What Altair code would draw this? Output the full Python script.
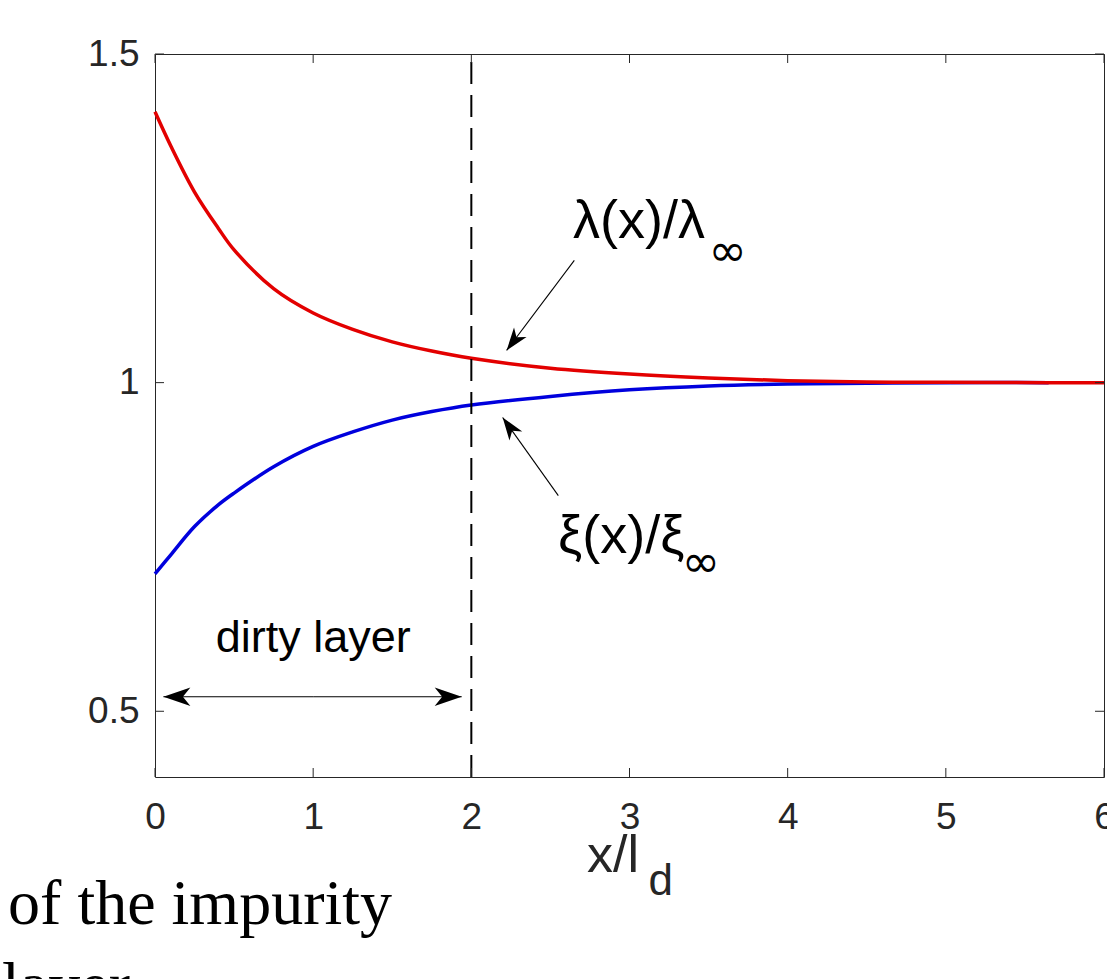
import math
import altair as alt
import pandas as pd

# ---- data ----
x_vals = [0, 0.1, 0.25, 0.4, 0.5, 0.75, 1.0, 1.25, 1.5, 1.75, 2.0, 2.5, 3.0, 3.5, 4.0, 4.5, 5.0, 5.65, 6.0]
lam_vals = [1.412, 1.360, 1.290, 1.235, 1.202, 1.143, 1.106, 1.081, 1.062, 1.048, 1.037, 1.022, 1.013, 1.007, 1.003, 1.001, 1.0005, 1.0, 1.0]
xi_x = [0, 0.1, 0.25, 0.4, 0.5, 0.75, 1.0, 1.25, 1.5, 1.75, 2.0, 2.5, 3.0, 3.5, 4.0, 4.5, 5.0, 5.65]
xi_vals = [0.709, 0.738, 0.781, 0.814, 0.832, 0.872, 0.903, 0.925, 0.943, 0.956, 0.966, 0.979, 0.989, 0.995, 0.998, 0.999, 1.0, 1.0]

x_ticks = [0, 1, 2, 3, 4, 5, 6]
y_ticks = [0.5, 1, 1.5]
x_domain = [0, 6]
y_domain = [0.4, 1.5]
dirty_x = 2.0

W, H = 949, 723
TICK = 9
AX = "#262626"

lam_df = pd.DataFrame({"x": x_vals, "y": lam_vals})
xi_df = pd.DataFrame({"x": xi_x, "y": xi_vals})

xs = alt.Scale(domain=x_domain, nice=False, zero=False)
ys = alt.Scale(domain=y_domain, nice=False, zero=False)


def X(f="x"):
    return alt.X(f"{f}:Q", scale=xs, title=None)


def Y(f="y"):
    return alt.Y(f"{f}:Q", scale=ys, title=None)


blue = alt.Chart(xi_df).mark_line(color="#0000dd", strokeWidth=3.5, interpolate="catmull-rom").encode(
    x=alt.X("x:Q", scale=xs, title=None,
            axis=alt.Axis(values=x_ticks, format="~g", ticks=False, tickSize=0, domain=False,
                          grid=False, labelPadding=22)),
    y=alt.Y("y:Q", scale=ys, title=None,
            axis=alt.Axis(values=y_ticks, format="~g", ticks=False, tickSize=0, domain=False,
                          grid=False, labelPadding=16)),
)
red = alt.Chart(lam_df).mark_line(color="#e30000", strokeWidth=3.5, interpolate="catmull-rom").encode(
    x=X(), y=Y()
)

vline = alt.Chart(pd.DataFrame({"x": [dirty_x], "y0": [y_domain[0]], "y1": [y_domain[1]]})).mark_rule(
    color="black", strokeWidth=2, strokeDash=[22, 11]
).encode(x=X(), y=Y("y0"), y2="y1:Q")

# inward ticks on all four sides
xt = pd.DataFrame({"t": x_ticks})
yt = pd.DataFrame({"t": y_ticks})
tick_style = dict(color=AX, strokeWidth=1)
tb = alt.Chart(xt).mark_rule(**tick_style).encode(x=X("t"), y=alt.value(H), y2=alt.value(H - TICK))
tt = alt.Chart(xt).mark_rule(**tick_style).encode(x=X("t"), y=alt.value(0), y2=alt.value(TICK))
tl = alt.Chart(yt).mark_rule(**tick_style).encode(y=Y("t"), x=alt.value(0), x2=alt.value(TICK))
tr = alt.Chart(yt).mark_rule(**tick_style).encode(y=Y("t"), x=alt.value(W), x2=alt.value(W - TICK))

# annotation arrows (start -> tip, in data units)
arrows = pd.DataFrame({
    "x0": [2.651, 2.550, 1.0, 1.0],
    "y0": [1.186, 0.828, 0.522, 0.522],
    "x1": [2.223, 2.198, 0.053, 1.939],
    "y1": [1.049, 0.947, 0.522, 0.522],
    "kind": ["small", "small", "big", "big"],
})
sx = W / (x_domain[1] - x_domain[0])
sy = H / (y_domain[1] - y_domain[0])
angles = []
for a, b, c, d in zip(arrows.x0, arrows.y0, arrows.x1, arrows.y1):
    dx = (c - a) * sx
    dy = -(d - b) * sy
    ang = math.degrees(math.atan2(dx, -dy)) % 360
    angles.append(ang)
arrows["angle"] = angles
arrows["size"] = [640 if k == "small" else 900 for k in arrows.kind]

shafts = alt.Chart(arrows).mark_rule(color="black", strokeWidth=1.1).encode(
    x=X("x0"), y=Y("y0"), x2="x1:Q", y2="y1:Q"
)
head_path = "M0,0 L0.62,1.8 L0,1.3 L-0.62,1.8 Z"
heads = alt.Chart(arrows).mark_point(shape=head_path, filled=True, color="black", opacity=1, strokeWidth=0).encode(
    x=X("x1"), y=Y("y1"), angle=alt.Angle("angle:Q", scale=None), size=alt.Size("size:Q", scale=None)
)


def label(x, y, text, size, align="left", baseline="middle", font="Liberation Sans", color="black", **kw):
    return alt.Chart(pd.DataFrame({"x": [x], "y": [y], "t": [text]})).mark_text(
        align=align, baseline=baseline, font=font, fontSize=size, color=color, **kw
    ).encode(x=X(), y=Y(), text="t:N")


texts = [
    label(2.643, 1.245, "λ(x)/λ", 54),
    label(3.50, 1.199, "∞", 46, font="DejaVu Sans"),
    label(2.548, 0.765, "ξ(x)/ξ", 54),
    label(3.33, 0.725, "∞", 46, font="DejaVu Sans"),
    label(1.0, 0.611, "dirty layer", 45, align="center"),
    label(2.731, 0.280, "x/l", 52, color=AX),
    label(3.12, 0.241, "d", 44, color=AX),
    label(-0.929, 0.1768, "of the impurity", 64, baseline="alphabetic", font="Liberation Serif"),
    label(-0.967, 0.0518, "layer", 64, baseline="alphabetic", font="Liberation Serif"),
]

chart = alt.layer(blue, red, vline, tb, tt, tl, tr, shafts, heads, *texts).properties(
    width=W,
    height=H,
    autosize=alt.AutoSizeParams(type="none"),
    padding={"left": 155, "top": 54, "right": 3, "bottom": 202},
    background="white",
).configure_view(
    stroke=AX, strokeWidth=1
).configure_axis(
    labelFont="Liberation Sans", labelFontSize=37, labelColor=AX, labelFlush=False
)

chart.save("out.html", embed_options={"renderer": "svg", "actions": False})
